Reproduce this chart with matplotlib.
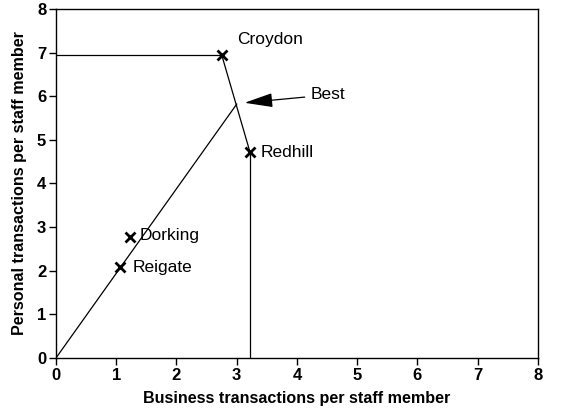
import numpy as np
import matplotlib.pyplot as plt

plt.rcParams['font.family'] = ['Liberation Sans', 'DejaVu Sans']

branches = ["Croydon", "Redhill", "Dorking", "Reigate"]
business = [2.75, 3.22, 1.23, 1.07]
personal = [6.95, 4.72, 2.77, 2.08]
label_pos = [(3.0, 7.3), (3.4, 4.72), (1.39, 2.8), (1.28, 2.07)]

best = (3.0, 5.82)
best_label = (4.22, 6.03)
best_arrow_head = (3.13, 5.85)

fig = plt.figure(figsize=(5.66, 4.16), dpi=100)
ax = fig.add_axes([0.0989, 0.1394, 0.8516, 0.839])

lw = 0.9
# frontier lines
ax.plot([0, business[0]], [personal[0], personal[0]], color='black', lw=lw)
ax.plot([business[0], business[1]], [personal[0], personal[1]], color='black', lw=lw)
ax.plot([business[1], business[1]], [personal[1], 0], color='black', lw=lw)
# ray from origin
ax.plot([0, best[0]], [0, best[1]], color='black', lw=lw)

ax.plot(business, personal, linestyle='none', marker='x', color='black',
        markersize=6.5, markeredgewidth=2)

for name, (tx, ty) in zip(branches, label_pos):
    ax.text(tx, ty, name, fontsize=12.5, va='center', ha='left')

ax.annotate("Best", xy=best_arrow_head, xytext=best_label, fontsize=12.5,
            va='center', ha='left',
            arrowprops=dict(arrowstyle='-|>,head_length=1.4,head_width=0.35',
                            color='black', lw=lw, shrinkA=2, shrinkB=0))

ax.set_xlim(0, 8)
ax.set_ylim(0, 8)
ax.set_xticks(range(9))
ax.set_yticks(range(9))
ax.tick_params(direction='out', length=5, width=1, labelsize=12, pad=2)
for lab in ax.get_xticklabels() + ax.get_yticklabels():
    lab.set_fontweight('bold')
ax.set_xlabel("Business transactions per staff member", fontsize=11.6,
              fontweight='bold', labelpad=6)
ax.set_ylabel("Personal transactions per staff member", fontsize=11.6,
              fontweight='bold', labelpad=7)
for s in ax.spines.values():
    s.set_linewidth(1)

fig.savefig("out.png", dpi=100)
